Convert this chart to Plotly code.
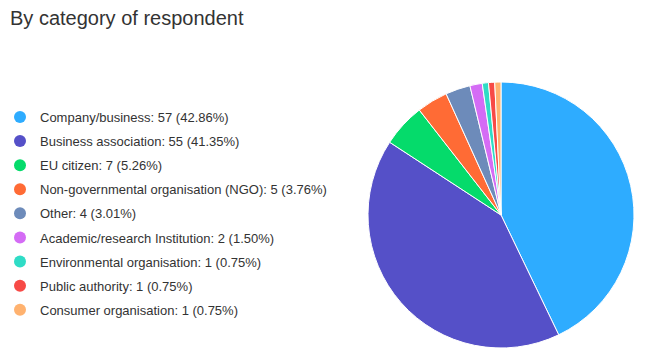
import plotly.graph_objects as go

categories = ["Company/business", "Business association", "EU citizen",
              "Non-governmental organisation (NGO)", "Other",
              "Academic/research Institution", "Environmental organisation",
              "Public authority", "Consumer organisation"]
counts = [57, 55, 7, 5, 4, 2, 1, 1, 1]
percents = ["42.86%", "41.35%", "5.26%", "3.76%", "3.01%", "1.50%", "0.75%", "0.75%", "0.75%"]
colors = ["#2eacff", "#5550c8", "#05db6b", "#ff6b35", "#6d8bba",
          "#d46cf5", "#2fdcc6", "#f74a46", "#ffb26f"]

fig = go.Figure()
fig.add_trace(go.Pie(
    labels=categories, values=counts, sort=False, direction="clockwise",
    rotation=0, marker=dict(colors=colors, line=dict(color="white", width=1)),
    textinfo="none", showlegend=False,
    domain=dict(x=[368/660, 634/660], y=[2/350, 268/350]),
))
for i, (c, n, p, col) in enumerate(zip(categories, counts, percents, colors)):
    fig.add_trace(go.Scatter(
        x=[None], y=[None], mode="markers",
        marker=dict(color=col, size=12, symbol="circle"),
        name=f"{c}: {n} ({p})", legendgroup=f"g{i}", showlegend=True,
    ))

fig.update_layout(
    width=660, height=350, margin=dict(l=0, r=0, t=0, b=0),
    paper_bgcolor="white", plot_bgcolor="white",
    font=dict(family="Liberation Sans, Arial, sans-serif", size=13, color="#333333"),
    title=dict(text="By category of respondent", x=10/660, xanchor="left",
               y=1-18/350, yanchor="middle", yref="container",
               font=dict(size=20, color="#333333")),
    xaxis=dict(visible=False), yaxis=dict(visible=False),
    legend=dict(x=0, xanchor="left", y=1-102/350, yanchor="top",
                traceorder="grouped", tracegroupgap=4.2, itemwidth=30,
                itemsizing="constant", bgcolor="rgba(0,0,0,0)",
                font=dict(size=13, color="#333333")),
)
fig.write_html("out.html")
